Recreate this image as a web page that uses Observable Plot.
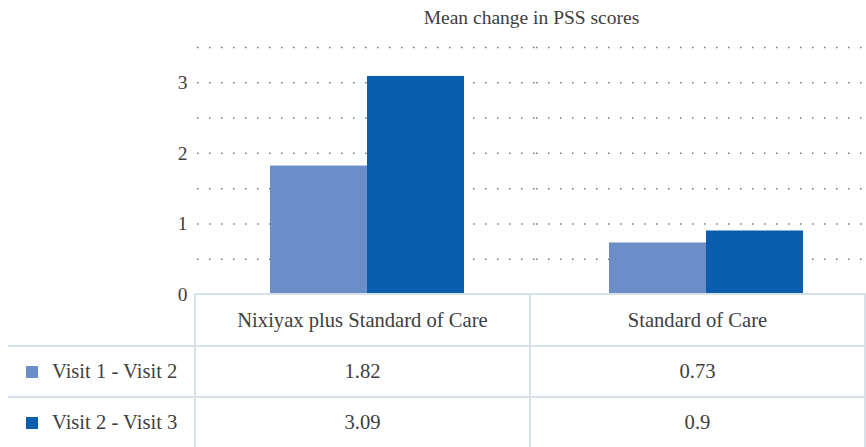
<!DOCTYPE html>
<html>
<head>
<meta charset="utf-8">
<script src="https://cdn.jsdelivr.net/npm/d3@7"></script>
<script src="https://cdn.jsdelivr.net/npm/@observablehq/plot@0.6"></script>
<style>
  html, body { margin: 0; padding: 0; background: #fff; }
  #wrap { position: relative; width: 866px; height: 447px; overflow: hidden; font-family: "Liberation Serif", serif; color: #404040; }
  #title { position: absolute; top: 5px; left: 197px; width: 669px; text-align: center; font-size: 19.5px; line-height: 26px; }
  #chart { position: absolute; top: 0; left: 0; }
  #tbl { position: absolute; top: 293px; left: 8px; border-collapse: collapse; table-layout: fixed; font-size: 20.6px; }
  #tbl td { border: 2px solid #D8E0EA; padding: 0; text-align: center; }
  #tbl td.corner { border-top: none; border-left: none; }
  #tbl td.lab { border-left: none; text-align: left; padding-left: 18px; }
  .sw { display: inline-block; width: 12px; height: 12px; margin-right: 14px; vertical-align: 0px; }
</style>
</head>
<body>
<div id="wrap">
  <div id="title"></div>
  <div id="chart"></div>
  <table id="tbl"></table>
</div>
<script>
const title = "Mean change in PSS scores";
const categories = ["Nixiyax plus Standard of Care", "Standard of Care"];
const seriesNames = ["Visit 1 - Visit 2", "Visit 2 - Visit 3"];
const visit12 = [1.82, 0.73];
const visit23 = [3.09, 0.9];
const colors = ["#6C8EC8", "#0B5DAD"];
const yTicks = [0, 1, 2, 3];
const gridValues = [0.5, 1, 1.5, 2, 2.5, 3, 3.5];

const seriesValues = [visit12, visit23];
const data = categories.flatMap((c, i) => seriesNames.map((s, j) => ({category: c, series: s, value: seriesValues[j][i]})));

document.getElementById("title").textContent = title;

const chart = Plot.plot({
  width: 866,
  height: 305,
  marginTop: 47,
  marginBottom: 11,
  marginLeft: 197,
  marginRight: -9,
  style: {fontFamily: "'Liberation Serif', serif", fontSize: "19.5px", color: "#404040", background: "transparent", overflow: "visible"},
  fx: {domain: categories, padding: 0, axis: null},
  x: {domain: seriesNames, axis: null, paddingInner: 0, paddingOuter: 0.738},
  y: {domain: [0, 3.5], ticks: yTicks, tickSize: 0, tickPadding: 10, label: null, tickFormat: d => String(d)},
  color: {domain: seriesNames, range: colors},
  marks: [
    Plot.ruleY(gridValues, {stroke: "#777", strokeWidth: 1.5, strokeDasharray: "1.5 10.5"}),
    Plot.barY(data, {fx: "category", x: "series", y: "value", fill: "series"})
  ]
});
document.getElementById("chart").appendChild(chart);

// data table
const tbl = document.getElementById("tbl");
const colgroup = document.createElement("colgroup");
[189, 339, 339].forEach(w => { const c = document.createElement("col"); c.style.width = w + "px"; colgroup.appendChild(c); });
tbl.appendChild(colgroup);
const head = document.createElement("tr");
head.style.height = "52px";
const corner = document.createElement("td"); corner.className = "corner"; head.appendChild(corner);
categories.forEach(c => { const td = document.createElement("td"); td.textContent = c; head.appendChild(td); });
tbl.appendChild(head);
seriesNames.forEach((s, j) => {
  const tr = document.createElement("tr");
  tr.style.height = "51px";
  const lab = document.createElement("td"); lab.className = "lab";
  const sw = document.createElement("span"); sw.className = "sw"; sw.style.background = colors[j];
  lab.appendChild(sw); lab.appendChild(document.createTextNode(s));
  tr.appendChild(lab);
  categories.forEach((c, i) => { const td = document.createElement("td"); td.textContent = String(seriesValues[j][i]); tr.appendChild(td); });
  tbl.appendChild(tr);
});
</script>
</body>
</html>
